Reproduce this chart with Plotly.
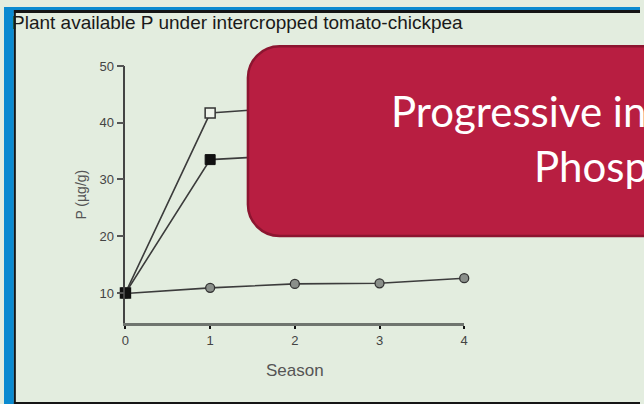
import plotly.graph_objects as go

W, H = 644, 404

seasons = [0, 1, 2, 3, 4]
p_open_sq = [10, 41.7, 42.8, 43.5, 44.0]
p_filled_sq = [10, 33.5, 34.3, 35.0, 35.5]
p_circle = [9.9, 10.9, 11.6, 11.7, 12.6]
y_ticks = [10, 20, 30, 40, 50]
x_ticks = [0, 1, 2, 3, 4]

title_text = "Plant available P under intercropped tomato-chickpea"
x_title = "Season"
y_title = "P (µg/g)"
box_line1 = "Progressive increase in plant"
box_line2 = "Phosphorus"

def px(x):
    return x / W

def py(y):
    return 1 - y / H

BG = "#e3eddf"
LINE = "#3c3c3c"

fig = go.Figure()
fig.add_trace(go.Scatter(
    x=seasons, y=p_circle, mode="lines+markers", cliponaxis=False,
    line=dict(color=LINE, width=1.6),
    marker=dict(symbol="circle", size=9, color="#8a8f8a", line=dict(color="#333", width=1.3)),
    showlegend=False))
fig.add_trace(go.Scatter(
    x=seasons, y=p_open_sq, mode="lines+markers", cliponaxis=False,
    line=dict(color=LINE, width=1.6),
    marker=dict(symbol="square", size=10, color="#eef3ea", line=dict(color="#333", width=1.5)),
    showlegend=False))
fig.add_trace(go.Scatter(
    x=seasons, y=p_filled_sq, mode="lines+markers", cliponaxis=False,
    line=dict(color=LINE, width=1.6),
    marker=dict(symbol="square", size=10, color="#111", line=dict(color="#111", width=1)),
    showlegend=False))

# bounds of plot area in pixels
x0p, x1p = 123, 466
y_top, y_bot = 60, 322
ymin = 10 - (y_bot - 291) / ((291 - 60) / 40.0)

fig.update_layout(
    width=W, height=H,
    margin=dict(l=0, r=0, t=0, b=0),
    paper_bgcolor=BG, plot_bgcolor=BG,
    xaxis=dict(domain=[px(x0p), px(x1p)], range=[0, 4], tickvals=x_ticks,
               showgrid=False, zeroline=False, showline=True, linecolor="#6f756f", linewidth=3,
               ticks="outside", ticklen=3, tickwidth=2, tickcolor="#111",
               tickfont=dict(family="Liberation Sans", size=13, color="#444"),
               title=dict(text=x_title, font=dict(family="Liberation Sans", size=17, color="#555"), standoff=18),
               anchor="y"),
    yaxis=dict(domain=[py(y_bot), py(y_top)], range=[ymin, 50], tickvals=y_ticks,
               showgrid=False, zeroline=False, showline=True, linecolor="#444", linewidth=1.6,
               ticks="outside", ticklen=7, tickwidth=1.5, tickcolor="#555",
               tickfont=dict(family="Liberation Sans", size=13, color="#444"),
               title=dict(text=y_title, font=dict(family="Liberation Sans", size=14, color="#555"), standoff=10),
               anchor="x"),
)

# title
fig.add_annotation(x=px(6), y=py(16), xref="paper", yref="paper", xanchor="left", yanchor="middle",
                   text=title_text, showarrow=False,
                   font=dict(family="Liberation Sans", size=19, color="#1a1a1a"))

shapes = []
# blue frame
shapes.append(dict(type="rect", xref="paper", yref="paper", x0=0, x1=px(10), y0=0, y1=1,
                   fillcolor="#0a8ad0", line=dict(width=0), layer="above"))
shapes.append(dict(type="rect", xref="paper", yref="paper", x0=0, x1=1, y0=py(3), y1=1,
                   fillcolor="#0a8ad0", line=dict(width=0), layer="above"))
# black inner lines
shapes.append(dict(type="rect", xref="paper", yref="paper", x0=px(10), x1=px(12), y0=0, y1=py(3),
                   fillcolor="#151515", line=dict(width=0), layer="above"))
shapes.append(dict(type="rect", xref="paper", yref="paper", x0=px(10), x1=1, y0=py(6), y1=py(3),
                   fillcolor="#151515", line=dict(width=0), layer="above"))
shapes.append(dict(type="rect", xref="paper", yref="paper", x0=px(10), x1=1, y0=0, y1=py(402),
                   fillcolor="#151515", line=dict(width=0), layer="above"))

# red rounded box
L, T, B, R, r = 247, 40, 233, 720, 32
k = 0.5523 * r
def P(x, y):
    return f"{px(x):.5f},{py(y):.5f}"
path = (f"M {P(L + r, T)} L {P(R, T)} L {P(R, B)} L {P(L + r, B)} "
        f"C {P(L + r - k, B)} {P(L, B - r + k)} {P(L, B - r)} "
        f"L {P(L, T + r)} C {P(L, T + r - k)} {P(L + r - k, T)} {P(L + r, T)} Z")
shapes.append(dict(type="path", xref="paper", yref="paper", path=path,
                   fillcolor="#b81e41", line=dict(color="#8c1530", width=2.5), layer="above"))
fig.update_layout(shapes=shapes)

fig.add_annotation(x=px(390), y=py(106), xref="paper", yref="paper", xanchor="left", yanchor="middle",
                   text=box_line1, showarrow=False,
                   font=dict(family="Lato", size=42, color="white"))
fig.add_annotation(x=px(535), y=py(162), xref="paper", yref="paper", xanchor="left", yanchor="middle",
                   text=box_line2, showarrow=False,
                   font=dict(family="Lato", size=42, color="white"))

fig.write_html("out.html", config={"displayModeBar": False},
               post_script="document.body.style.margin='0';document.body.style.overflow='hidden';")
